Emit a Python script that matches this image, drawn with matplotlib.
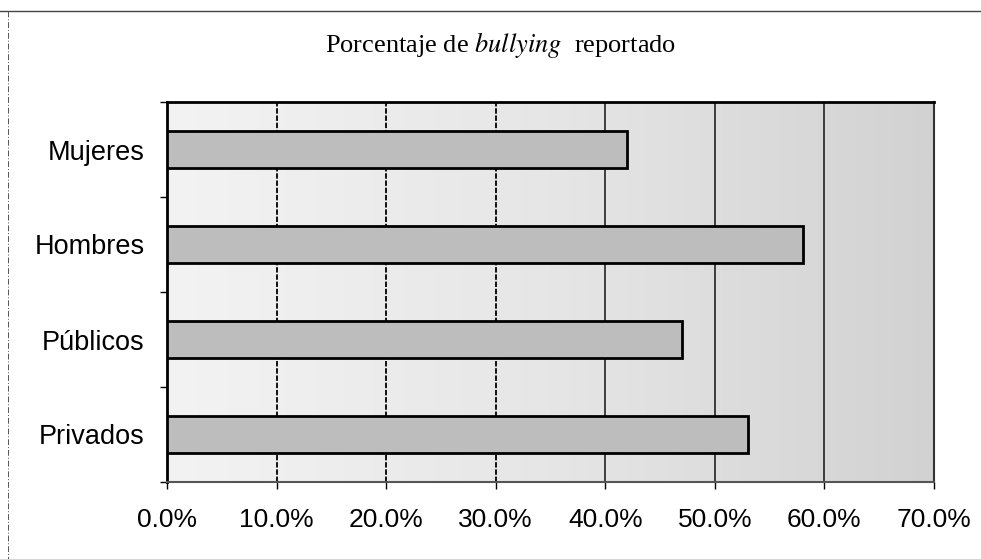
import matplotlib
matplotlib.use("Agg")
import matplotlib.pyplot as plt
import numpy as np
from matplotlib.ticker import FuncFormatter
from matplotlib.colors import LinearSegmentedColormap

categories = ["Mujeres", "Hombres", "Públicos", "Privados"]
values = [42.0, 58.0, 47.0, 53.0]
xticks = [0, 10, 20, 30, 40, 50, 60, 70]

fig = plt.figure(figsize=(9.81, 5.59), dpi=100)
fig.patch.set_facecolor("white")

W, H = 981, 559
ax = fig.add_axes([167 / W, 1 - 482 / H, (934 - 167) / W, (482 - 102) / H])

# background gradient (light on left, darker on right)
bg_cmap = LinearSegmentedColormap.from_list("bg", ["#f3f3f3", "#e6e6e6", "#d2d2d2"])
grad = np.linspace(0.0, 1.0, 256).reshape(1, -1)
ax.imshow(grad, extent=[0, 70, -0.5, 3.5], aspect="auto", cmap=bg_cmap,
          vmin=0, vmax=1, zorder=0)

y = np.arange(len(categories))
ax.barh(y, values, height=0.39, color="#bdbdbd", edgecolor="black",
        linewidth=2.0, zorder=3)

ax.set_xlim(0, 70)
ax.set_ylim(len(categories) - 0.5, -0.5)
ax.set_xticks(xticks)
ax.xaxis.set_major_formatter(FuncFormatter(lambda v, p: f"{v:.1f}%"))
ax.set_yticks(y)
ax.set_yticklabels(categories)
ax.set_yticks(np.arange(-0.5, len(categories), 1.0), minor=True)

for xv in xticks[1:-1]:
    if xv <= 30:
        ax.axvline(xv, color="black", linewidth=1.3, linestyle=(0, (3, 1)), zorder=2)
    else:
        ax.axvline(xv, color="#222222", linewidth=1.2, zorder=2)

for side in ["top", "left"]:
    ax.spines[side].set_linewidth(2.0)
    ax.spines[side].set_color("black")
ax.spines["right"].set_linewidth(1.5)
ax.spines["right"].set_color("#333333")
ax.spines["bottom"].set_linewidth(1.5)
ax.spines["bottom"].set_color("#555555")

ax.tick_params(axis="y", which="major", length=0, pad=16, labelsize=19.5)
ax.tick_params(axis="y", which="minor", length=5, width=1, direction="out")
ax.tick_params(axis="x", length=5, width=1, direction="out", pad=14, labelsize=19)
for lab in ax.get_xticklabels() + ax.get_yticklabels():
    lab.set_family(["Liberation Sans", "DejaVu Sans"])

fig.text(501 / W, 1 - 45 / H, "Porcentaje de $\\it{bullying}$  reportado",
         ha="center", va="center", fontsize=19, family="Liberation Serif",
         math_fontfamily="stix")

# outer frame (top rule and dash-dot left rule)
fig.add_artist(plt.Line2D([0, 1], [1 - 11 / H, 1 - 11 / H], transform=fig.transFigure,
                          color="#444444", linewidth=1.0))
fig.add_artist(plt.Line2D([8 / W, 8 / W], [1 - 11 / H, 0.0], transform=fig.transFigure,
                          color="#555555", linewidth=0.7, linestyle=(0, (6, 2, 1, 2))))

fig.savefig("out.png", dpi=100)
